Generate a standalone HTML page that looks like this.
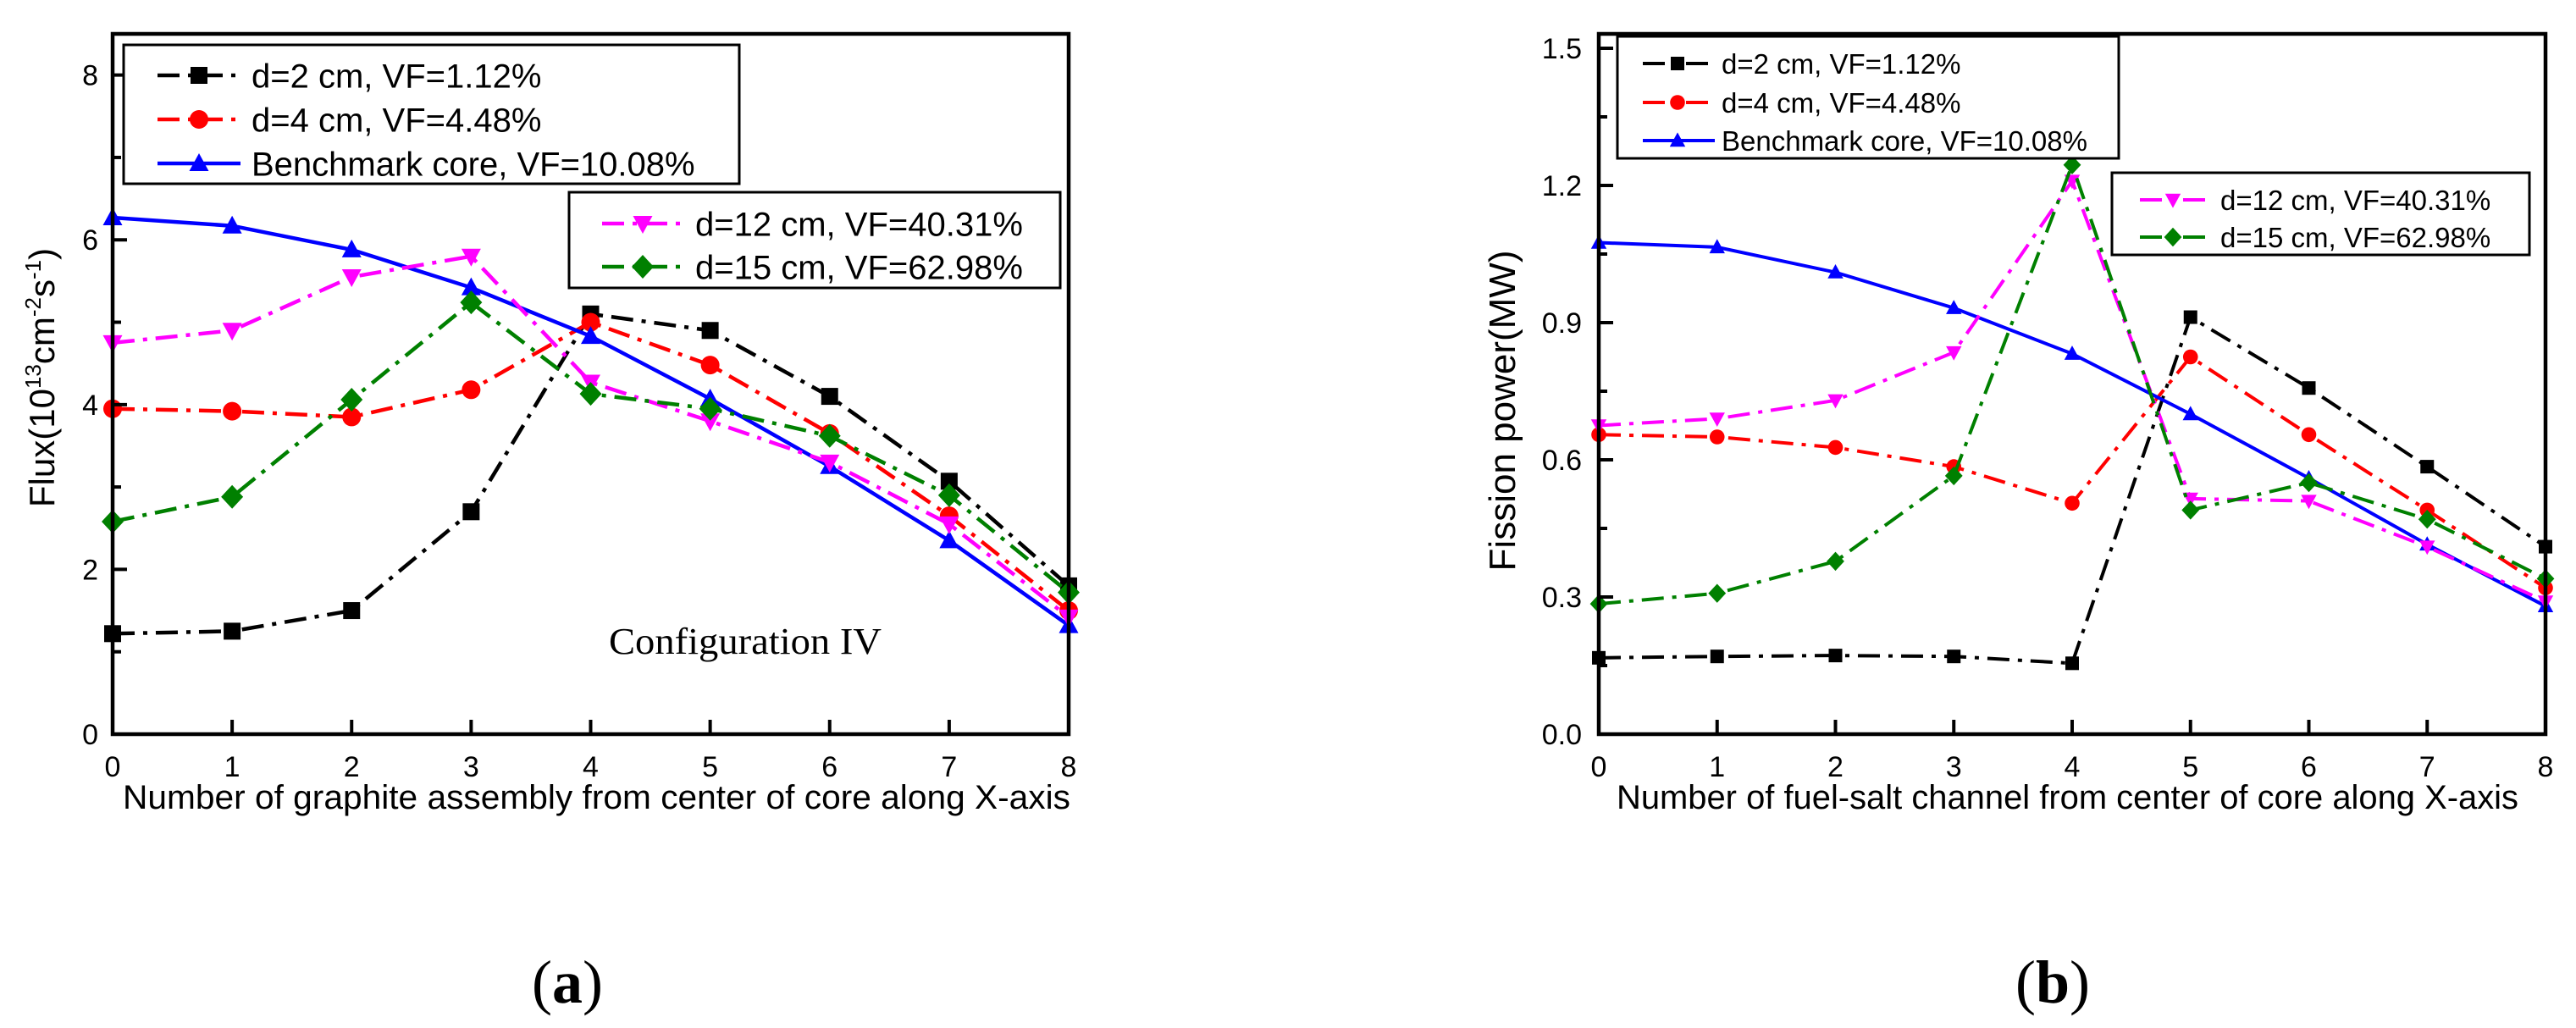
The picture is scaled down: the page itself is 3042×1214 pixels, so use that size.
<!DOCTYPE html>
<html><head><meta charset="utf-8">
<style>
html,body{margin:0;padding:0;background:#fff;}
svg{display:block;}
text{font-family:"Liberation Sans",Arial,sans-serif;fill:#000;}
</style></head>
<body>
<svg id="fig" width="3042" height="1214" viewBox="0 0 3042 1214" xmlns="http://www.w3.org/2000/svg"></svg>
<script>
// ---- shared categories ----
const xCats = [0,1,2,3,4,5,6,7,8];
// ---- chart (a): flux ----
const fluxD2  = [1.22,1.25,1.5,2.7,5.1,4.9,4.1,3.07,1.8];
const fluxD4  = [3.95,3.92,3.85,4.18,5.0,4.48,3.65,2.65,1.5];
const fluxBench = [6.27,6.17,5.88,5.42,4.83,4.07,3.25,2.35,1.32];
const fluxD12 = [4.75,4.9,5.55,5.8,4.27,3.8,3.3,2.55,1.42];
const fluxD15 = [2.58,2.88,4.06,5.24,4.13,3.95,3.62,2.9,1.72];
const fluxTicks = ['0','2','4','6','8'];
// ---- chart (b): fission power ----
const powD2  = [0.167,0.17,0.172,0.17,0.155,0.912,0.757,0.585,0.41];
const powD4  = [0.655,0.65,0.627,0.585,0.505,0.825,0.655,0.49,0.32];
const powBench = [1.075,1.065,1.01,0.932,0.832,0.70,0.56,0.415,0.28];
const powD12 = [0.675,0.69,0.73,0.835,1.21,0.515,0.51,0.41,0.29];
const powD15 = [0.285,0.308,0.378,0.565,1.245,0.49,0.55,0.47,0.34];
const powTicks = ['0.0','0.3','0.6','0.9','1.2','1.5'];
const seriesLabels = ['d=2 cm, VF=1.12%','d=4 cm, VF=4.48%','Benchmark core, VF=10.08%','d=12 cm, VF=40.31%','d=15 cm, VF=62.98%'];

const NS='http://www.w3.org/2000/svg';
const svg=document.getElementById('fig');
function el(tag,attrs,parent){const e=document.createElementNS(NS,tag);for(const k in attrs)e.setAttribute(k,attrs[k]);(parent||svg).appendChild(e);return e;}

const styles=[
 {color:'#000000',dash:'26 10 5 10',marker:'square'},
 {color:'#ff0000',dash:'26 10 5 10',marker:'circle'},
 {color:'#0000ff',dash:'none',marker:'tri'},
 {color:'#ff00ff',dash:'26 10 5 10',marker:'tridown'},
 {color:'#008000',dash:'26 10 5 10',marker:'diamond'}];

function marker(g,type,x,y,s,color){
  let m;
  if(type==='square') m=el('rect',{x:x-s,y:y-s,width:2*s,height:2*s,fill:color},g);
  else if(type==='circle') m=el('circle',{cx:x,cy:y,r:s*1.1,fill:color},g);
  else if(type==='tri') m=el('polygon',{points:`${x},${y-s*1.2} ${x-s*1.15},${y+s*0.9} ${x+s*1.15},${y+s*0.9}`,fill:color},g);
  else if(type==='tridown') m=el('polygon',{points:`${x},${y+s*1.2} ${x-s*1.15},${y-s*0.9} ${x+s*1.15},${y-s*0.9}`,fill:color},g);
  else m=el('polygon',{points:`${x},${y-s*1.4} ${x+s*1.3},${y} ${x},${y+s*1.4} ${x-s*1.3},${y}`,fill:color},g);
  return m;
}

function chart(cfg){
  const g=el('g',{});
  
  
  const {L,R,T,B,ymax}=cfg;
  const xs=v=>L+(v-0)/8*(R-L);
  const ys=v=>B-v/ymax*(B-T);
  // series
  cfg.series.forEach((vals,i)=>{
    const st=styles[i];
    const sg=el('g',{},g);
    
    
    const pts=vals.map((v,j)=>xs(xCats[j])+','+ys(v)).join(' ');
    const pl=el('polyline',{points:pts,fill:'none',stroke:st.color,'stroke-width':cfg.lw,'stroke-dasharray':st.dash,'stroke-linejoin':'round'},sg);
    
    
    vals.forEach((v,j)=>{
      const m=marker(sg,st.marker,xs(xCats[j]),ys(v),cfg.ms,st.color);
      
      
    });
  });
  // frame
  const fr=el('rect',{x:L,y:T,width:R-L,height:B-T,fill:'none',stroke:'#000','stroke-width':4.5},g);
  
  
  // y ticks
  const step=ymax>5?2:0.3;
  cfg.yticks.forEach((lab,k)=>{
    const v=k*step, y=ys(v);
    const t=el('line',{x1:L,y1:y,x2:L+17,y2:y,stroke:'#000','stroke-width':4},g);
    
    
    const tx=el('text',{x:cfg.ylabX,y:y+12,'text-anchor':'end','font-size':34},g);
    tx.textContent=lab;
    
    
    if(k<cfg.yticks.length-1){
      const mv=ys(v+step/2);
      const mt=el('line',{x1:L,y1:mv,x2:L+10,y2:mv,stroke:'#000','stroke-width':4},g);
      
      
    }
  });
  // x ticks
  xCats.forEach(c=>{
    const x=xs(c);
    const t=el('line',{x1:x,y1:B,x2:x,y2:B-17,stroke:'#000','stroke-width':4},g);
    
    
    const tx=el('text',{x:x,y:917,'text-anchor':'middle','font-size':34},g);
    tx.textContent=String(c);
    
    
  });
  // x title
  const xt=el('text',{x:cfg.xtX1,y:955,'font-size':40,textLength:cfg.xtX2-cfg.xtX1,lengthAdjust:'spacingAndGlyphs'},g);
  xt.textContent=cfg.xtitle;
  
  
  // legends
  cfg.legends.forEach((lg,li)=>{
    const lgG=el('g',{},g);
    
    
    const bx=el('rect',{x:lg.x1,y:lg.y1,width:lg.x2-lg.x1,height:lg.y2-lg.y1,fill:'#fff',stroke:'#000','stroke-width':3},lgG);
    
    
    lg.items.forEach((si,r)=>{
      const st=styles[si], y=lg.rows[r];
      const eg=el('g',{},lgG);
      
      
      el('line',{x1:lg.l1,y1:y,x2:lg.l2,y2:y,stroke:st.color,'stroke-width':cfg.lw,'stroke-dasharray':st.dash},eg);
      marker(eg,st.marker,lg.mx,y,cfg.ms,st.color);
      const tx=el('text',{x:lg.tx,y:y+lg.fs*0.36,'font-size':lg.fs},eg);
      tx.textContent=seriesLabels[si];
    });
  });
  return g;
}

chart({name:'flux-chart',L:133,R:1262,T:40,B:867,ymax:8.5,lw:4.5,ms:10,
  series:[fluxD2,fluxD4,fluxBench,fluxD12,fluxD15],keys:['d2','d4','benchmark','d12','d15'],
  yticks:fluxTicks,ylabX:116,xtitle:'Number of graphite assembly from center of core along X-axis',xtX1:145,xtX2:1264,
  legends:[{x1:146,y1:53,x2:873,y2:217,rows:[89,141,193],items:[0,1,2],l1:186,l2:284,mx:235,tx:297,fs:40},
           {x1:672,y1:227,x2:1252,y2:340,rows:[264,315],items:[3,4],l1:711,l2:810,mx:759,tx:821,fs:40}]});

chart({name:'fission-power-chart',L:1888,R:3006,T:40,B:867,ymax:1.5315,lw:4,ms:8,
  series:[powD2,powD4,powBench,powD12,powD15],keys:['d2','d4','benchmark','d12','d15'],
  yticks:powTicks,ylabX:1868,xtitle:'Number of fuel-salt channel from center of core along X-axis',xtX1:1909,xtX2:2974,
  legends:[{x1:1910,y1:43,x2:2502,y2:187,rows:[75,121,166],items:[0,1,2],l1:1940,l2:2025,mx:1981,tx:2033,fs:33},
           {x1:2494,y1:204,x2:2987,y2:301,rows:[236,280],items:[3,4],l1:2527,l2:2605,mx:2566,tx:2622,fs:33}]});
</script>
<svg width="0" height="0"></svg>
<script>
(function(){
const NS='http://www.w3.org/2000/svg';const svg=document.getElementById('fig');
function t(attrs,txt,name){const e=document.createElementNS(NS,'text');for(const k in attrs)e.setAttribute(k,attrs[k]);e.textContent=txt;


svg.appendChild(e);return e;}
// y titles
const y1=document.createElementNS(NS,'text');
y1.setAttribute('transform','translate(64,446) rotate(-90)');
y1.setAttribute('text-anchor','middle');y1.setAttribute('font-size','42');
y1.innerHTML='Flux(10<tspan font-size="26" dy="-16">13</tspan><tspan dy="16">cm</tspan><tspan font-size="26" dy="-16">-2</tspan><tspan dy="16">s</tspan><tspan font-size="26" dy="-16">-1</tspan><tspan dy="16">)</tspan>';


svg.appendChild(y1);
const y2=t({transform:'translate(1789,485) rotate(-90)','text-anchor':'middle','font-size':44},'Fission power(MW)','y-axis-title-power');
t({x:719,y:772,'font-size':44,'font-family':'"Liberation Serif",serif',textLength:322,lengthAdjust:'spacingAndGlyphs',style:'font-family:"Liberation Serif",serif'},'Configuration IV','configuration-label');
const a=t({x:670,y:1184,'text-anchor':'middle','font-size':72,style:'font-family:"Liberation Serif",serif'},'','panel-label-a');
a.innerHTML='(<tspan font-weight="bold">a</tspan>)';
const b=t({x:2424,y:1184,'text-anchor':'middle','font-size':72,style:'font-family:"Liberation Serif",serif'},'','panel-label-b');
b.innerHTML='(<tspan font-weight="bold">b</tspan>)';
})();
</script>
</body></html>
